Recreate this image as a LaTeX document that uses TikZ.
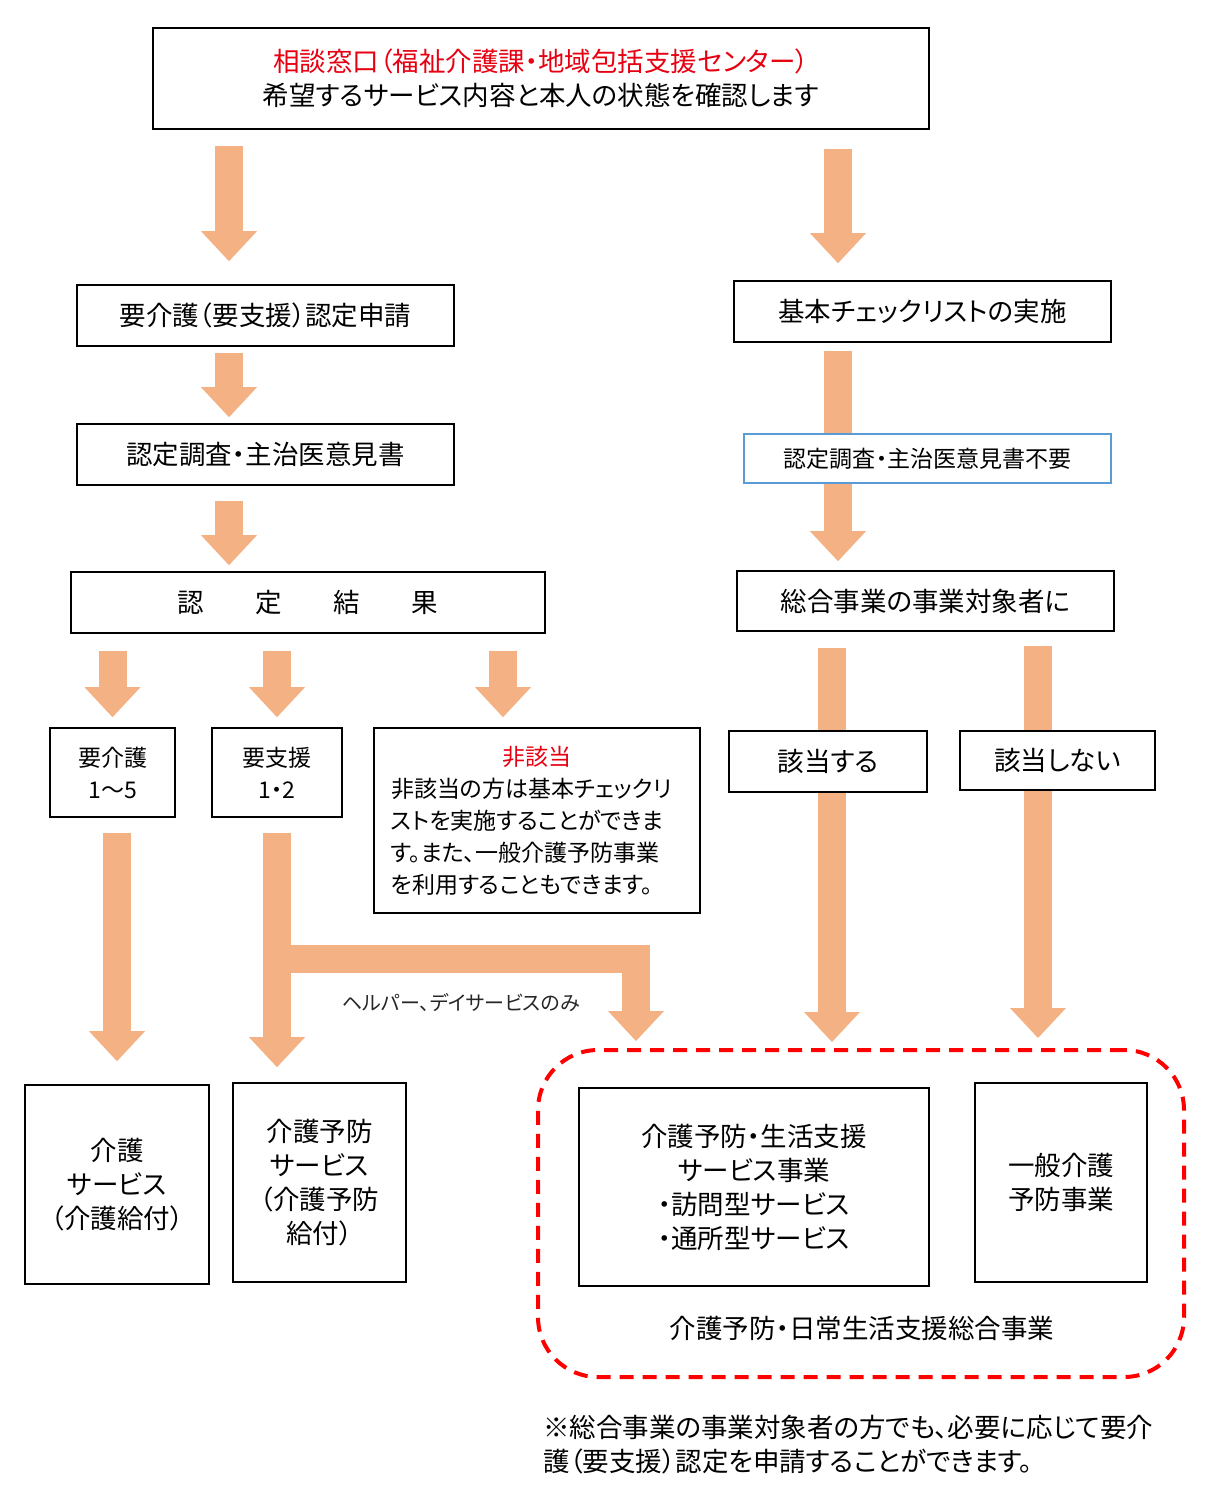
\documentclass[tikz,border=0pt]{standalone}
\usepackage{fontspec}
\setmainfont{Noto Sans CJK JP}[RawFeature=+palt]
\usetikzlibrary{arrows.meta,backgrounds}
\definecolor{arrowc}{RGB}{244,177,131}
\definecolor{jpred}{RGB}{230,0,18}
\definecolor{boxblue}{RGB}{91,155,213}
\newcommand\bigjp{\fontsize{26.5}{34}\selectfont}
\newcommand\smalljp{\fontsize{23}{32}\selectfont}
\tikzset{
  box/.style={draw, line width=1.6pt, fill=white, align=center, inner sep=0pt, font=\bigjp},
  smallbox/.style={box, font=\smalljp},
  fatarr/.style={draw=arrowc, line width=28pt, -{Triangle[width=56pt,length=30pt,line width=0pt]}},
}
\begin{document}
\begin{tikzpicture}[x=1pt,y=-1pt]
\useasboundingbox (0,0) rectangle (1212,1510);

% columns of the arrows
\coordinate (colL) at (229,0);
\coordinate (colR) at (838,0);
\coordinate (colN) at (503,0);
\coordinate (colY) at (832,0);
\coordinate (colX) at (1038,0);
\coordinate (brx) at (636,0);
\coordinate (fork) at (277,959);

% top box
\node[box, minimum width=776pt, minimum height=101pt] (top) at (541,78.5)
  {{\color{jpred}相談窓口（福祉介護課・地域包括支援センター）}\\希望するサービス内容と本人の状態を確認します};

% left flow
\node[box, minimum width=377pt, minimum height=61pt] (shinsei) at (265.5,315.5) {要介護（要支援）認定申請};
\node[box, minimum width=377pt, minimum height=61pt] (chousa) at (265.5,454.5) {認定調査・主治医意見書};
\node[box, minimum width=474pt, minimum height=61pt] (kekka) at (308,602.5)
  {認\hspace{51.5pt}定\hspace{51.5pt}結\hspace{51.5pt}果};
\node[smallbox, minimum width=125pt, minimum height=89pt] (kaigo15) at (112.5,772.5) {要介護\\1～5};
\node[smallbox, minimum width=130pt, minimum height=89pt] (shien12) at (277,772.5) {要支援\\1・2};
\node[smallbox, minimum width=326pt, minimum height=185pt, text width=292pt, align=left] (higaitou) at (537,820.5)
  {\hfill\textcolor{jpred}{非該当}\hfill\null\\非該当の方は基本チェックリ\\ストを実施することができま\\す。また、一般介護予防事業\\を利用することもできます。};

% right flow
\node[box, minimum width=377pt, minimum height=61pt] (check) at (922.5,311.5) {基本チェックリストの実施};
\node[smallbox, draw=boxblue, minimum width=367pt, minimum height=49pt] (fuyou) at (927.5,458.5) {認定調査・主治医意見書不要};
\node[box, minimum width=377pt, minimum height=60pt] (taishou) at (925.5,601) {総合事業の事業対象者に};
\node[box, minimum width=198pt, minimum height=61pt] (gaitou) at (828,761.5) {該当する};
\node[box, minimum width=195pt, minimum height=59pt] (higaitounai) at (1057.5,760.5) {該当しない};

% services
\node[box, minimum width=184pt, minimum height=199pt] (kaigosvc) at (117,1184.5) {介護\\サービス\\（介護給付）};
\node[box, minimum width=173pt, minimum height=199pt] (yobosvc) at (319.5,1182.5) {介護予防\\サービス\\（介護予防\\給付）};
\node[draw=red, line width=4pt, dash pattern=on 14pt off 9pt, rounded corners=60pt,
  minimum width=646pt, minimum height=327pt] (sougou) at (861,1213.5) {};
\node[box, minimum width=350pt, minimum height=198pt] (seikatsu) at (754,1187)
  {介護予防・生活支援\\サービス事業\\・訪問型サービス\\・通所型サービス};
\node[box, minimum width=172pt, minimum height=199pt] (ippan) at (1061,1182.5) {一般介護\\予防事業};
\node[font=\bigjp] (sougoulbl) at (862,1328) {介護予防・日常生活支援総合事業};

% note
\node[font=\bigjp, align=left, anchor=north west, inner sep=0pt] (note) at (543,1415)
  {※総合事業の事業対象者の方でも、必要に応じて要介\\護（要支援）認定を申請することができます。};

% helper label
\node[font=\fontsize{20}{22}\selectfont, text=black!85] (helper) at (461,1003) {ヘルパー、デイサービスのみ};

% arrows
\begin{scope}[on background layer]
\draw[fatarr, shorten <=16pt, shorten >=23pt] (top.south -| colL) -- (shinsei.north -| colL);
\draw[fatarr, shorten <=19pt, shorten >=17pt] (top.south -| colR) -- (check.north -| colR);
\draw[fatarr, shorten <=6pt, shorten >=6pt] (shinsei.south -| colL) -- (chousa.north -| colL);
\draw[fatarr, shorten <=8pt, shorten >=9pt] (check.south -| colR) -- (taishou.north -| colR);
\draw[fatarr, shorten <=15pt, shorten >=6pt] (chousa.south -| colL) -- (kekka.north -| colL);
\draw[fatarr, shorten <=17pt, shorten >=10pt] (kekka.south -| kaigo15.north) -- (kaigo15.north);
\draw[fatarr, shorten <=17pt, shorten >=10pt] (kekka.south -| shien12.north) -- (shien12.north);
\draw[fatarr, shorten <=17pt, shorten >=10pt] (kekka.south -| colN) -- (higaitou.north -| colN);
\draw[fatarr, shorten <=16pt, shorten >=6pt] (taishou.south -| colY) -- (sougou.north -| colY);
\draw[fatarr, shorten <=14pt, shorten >=10pt] (taishou.south -| colX) -- (sougou.north -| colX);
\draw[fatarr, shorten <=15pt, shorten >=23pt] (kaigo15.south -| kaigosvc.north) -- (kaigosvc.north);
\draw[fatarr, shorten <=15pt, shorten >=15pt] (shien12.south) -- (yobosvc.north -| shien12.south);
\draw[fatarr, shorten >=7pt] (fork) -| (sougou.north -| brx);
\end{scope}

\end{tikzpicture}
\end{document}
